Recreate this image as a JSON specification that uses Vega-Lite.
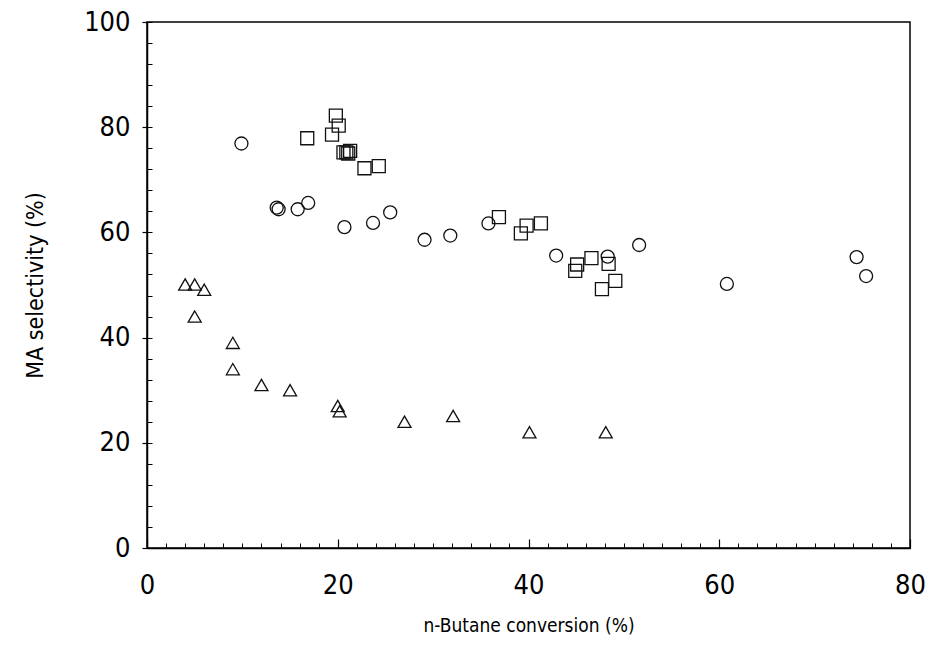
{
  "$schema": "https://vega.github.io/schema/vega-lite/v6.json",
  "width": 763,
  "height": 526,
  "autosize": "none",
  "padding": {"left": 147, "top": 22, "right": 19, "bottom": 98},
  "background": "white",
  "config": {
    "view": {"stroke": "#000", "strokeWidth": 1.5},
    "font": "DejaVu Sans Condensed, Liberation Sans, sans-serif",
    "axis": {"grid": false, "labelColor": "#000", "titleColor": "#000", "tickColor": "#000", "domainColor": "#000", "labelFont": "DejaVu Sans Condensed, Liberation Sans, sans-serif", "titleFont": "DejaVu Sans Condensed, Liberation Sans, sans-serif"}
  },
  "data": {
    "values": [
      {"series": "T", "conversion": 4.0, "selectivity": 50.1},
      {"series": "T", "conversion": 5.0, "selectivity": 50.1},
      {"series": "T", "conversion": 6.0, "selectivity": 49.1},
      {"series": "T", "conversion": 5.0, "selectivity": 44.0},
      {"series": "T", "conversion": 9.0, "selectivity": 39.0},
      {"series": "T", "conversion": 9.0, "selectivity": 34.0},
      {"series": "T", "conversion": 12.0, "selectivity": 31.0},
      {"series": "T", "conversion": 15.0, "selectivity": 30.0},
      {"series": "T", "conversion": 20.0, "selectivity": 27.0},
      {"series": "T", "conversion": 20.2, "selectivity": 26.0},
      {"series": "T", "conversion": 27.0, "selectivity": 24.0},
      {"series": "T", "conversion": 32.1, "selectivity": 25.1},
      {"series": "T", "conversion": 40.1, "selectivity": 22.0},
      {"series": "T", "conversion": 48.1, "selectivity": 22.0},
      {"series": "S", "conversion": 19.8, "selectivity": 82.2},
      {"series": "S", "conversion": 20.1, "selectivity": 80.3},
      {"series": "S", "conversion": 19.4, "selectivity": 78.6},
      {"series": "S", "conversion": 16.8, "selectivity": 77.9},
      {"series": "S", "conversion": 20.6, "selectivity": 75.2},
      {"series": "S", "conversion": 20.9, "selectivity": 75.2},
      {"series": "S", "conversion": 21.1, "selectivity": 75.0},
      {"series": "S", "conversion": 21.3, "selectivity": 75.5},
      {"series": "S", "conversion": 22.8, "selectivity": 72.2},
      {"series": "S", "conversion": 24.3, "selectivity": 72.6},
      {"series": "S", "conversion": 36.9, "selectivity": 62.9},
      {"series": "S", "conversion": 39.8, "selectivity": 61.3},
      {"series": "S", "conversion": 39.2, "selectivity": 59.8},
      {"series": "S", "conversion": 41.3, "selectivity": 61.7},
      {"series": "S", "conversion": 45.1, "selectivity": 53.9},
      {"series": "S", "conversion": 44.9, "selectivity": 52.7},
      {"series": "S", "conversion": 46.6, "selectivity": 55.1},
      {"series": "S", "conversion": 48.4, "selectivity": 54.0},
      {"series": "S", "conversion": 49.1, "selectivity": 50.8},
      {"series": "S", "conversion": 47.7, "selectivity": 49.2},
      {"series": "C", "conversion": 9.9, "selectivity": 76.9},
      {"series": "C", "conversion": 13.6, "selectivity": 64.7},
      {"series": "C", "conversion": 13.8, "selectivity": 64.4},
      {"series": "C", "conversion": 15.8, "selectivity": 64.4},
      {"series": "C", "conversion": 16.9, "selectivity": 65.6},
      {"series": "C", "conversion": 20.7, "selectivity": 61.0},
      {"series": "C", "conversion": 23.7, "selectivity": 61.8},
      {"series": "C", "conversion": 25.5, "selectivity": 63.8},
      {"series": "C", "conversion": 29.1, "selectivity": 58.6},
      {"series": "C", "conversion": 31.8, "selectivity": 59.4},
      {"series": "C", "conversion": 35.8, "selectivity": 61.7},
      {"series": "C", "conversion": 42.9, "selectivity": 55.6},
      {"series": "C", "conversion": 48.3, "selectivity": 55.4},
      {"series": "C", "conversion": 51.6, "selectivity": 57.6},
      {"series": "C", "conversion": 60.8, "selectivity": 50.2},
      {"series": "C", "conversion": 74.4, "selectivity": 55.3},
      {"series": "C", "conversion": 75.4, "selectivity": 51.7}
    ]
  },
  "layer": [
    {
      "mark": {"type": "point", "filled": false, "stroke": "#111", "strokeWidth": 1.3, "size": 169, "opacity": 1},
      "encoding": {
        "x": {
          "field": "conversion", "type": "quantitative",
          "scale": {"domain": [0, 80], "nice": false, "zero": false},
          "axis": {
            "orient": "bottom", "values": [0, 20, 40, 60, 80], "ticks": false,
            "domainWidth": 1.5, "labelFontSize": 27, "labelPadding": 24, "labelFlush": false,
            "title": "n-Butane conversion (%)", "titleFontSize": 19, "titleFontWeight": "normal", "titlePadding": 18
          }
        },
        "y": {
          "field": "selectivity", "type": "quantitative",
          "scale": {"domain": [0, 100], "nice": false, "zero": false},
          "axis": {
            "orient": "left", "values": [0, 20, 40, 60, 80, 100], "ticks": true, "tickSize": 5, "tickWidth": 1.2,
            "domainWidth": 1.5, "labelFontSize": 27, "labelPadding": 12, "labelFlush": false,
            "title": "MA selectivity (%)", "titleFontSize": 23, "titleFontWeight": "normal", "titlePadding": 36
          }
        },
        "shape": {
          "field": "series", "type": "nominal",
          "scale": {"domain": ["C", "S", "T"], "range": ["circle", "square", "triangle-up"]},
          "legend": null
        }
      }
    },
    {
      "mark": {"type": "point", "opacity": 0},
      "encoding": {
        "x": {
          "field": "conversion", "type": "quantitative",
          "axis": {
            "orient": "bottom", "values": [0,2,4,6,8,10,12,14,16,18,20,22,24,26,28,30,32,34,36,38,40,42,44,46,48,50,52,54,56,58,60,62,64,66,68,70,72,74,76,78,80],
            "labels": false, "domain": false, "ticks": true, "tickSize": -5, "tickWidth": 1, "title": null
          }
        },
        "y": {
          "field": "selectivity", "type": "quantitative",
          "axis": {
            "orient": "left", "values": [0,4,8,12,16,20,24,28,32,36,40,44,48,52,56,60,64,68,72,76,80,84,88,92,96,100],
            "labels": false, "domain": false, "ticks": true, "tickSize": -5, "tickWidth": 1, "title": null
          }
        }
      }
    },
    {
      "mark": {"type": "point", "opacity": 0},
      "encoding": {
        "x": {
          "field": "conversion", "type": "quantitative",
          "axis": {
            "orient": "bottom", "values": [0, 20, 40, 60, 80],
            "labels": false, "domain": false, "ticks": true, "tickSize": -9, "tickWidth": 1.2, "title": null
          }
        },
        "y": {"field": "selectivity", "type": "quantitative", "axis": null}
      }
    }
  ],
  "resolve": {"axis": {"x": "independent", "y": "independent"}}
}
